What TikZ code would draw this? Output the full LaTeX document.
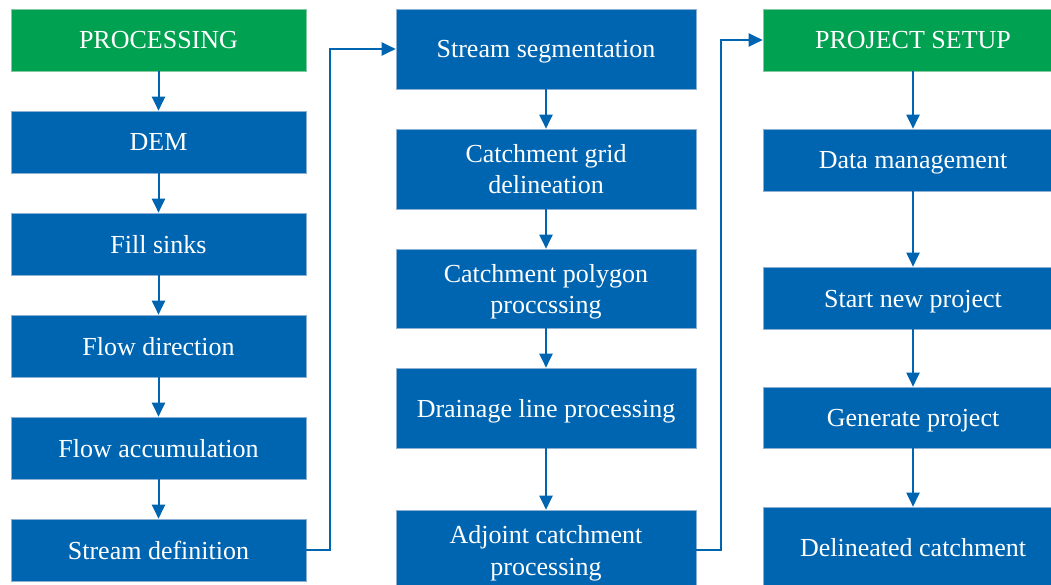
\documentclass[tikz,border=0pt]{standalone}
\usepackage{fontspec}
\setmainfont{Liberation Serif}
\usetikzlibrary{arrows.meta}
\definecolor{boxblue}{RGB}{0,101,177}
\definecolor{boxgreen}{RGB}{0,161,80}
\definecolor{edgeblue}{RGB}{140,175,210}
\definecolor{edgegreen}{RGB}{130,200,160}
\begin{document}
\begin{tikzpicture}[x=1pt,y=-1pt,
  every node/.style={font=\fontsize{26}{31}\selectfont, text=white, inner sep=0pt, align=center, text depth=0pt},
  bluebox/.style={rectangle, fill=boxblue, draw=edgeblue, line width=0.6pt},
  greenbox/.style={rectangle, fill=boxgreen, draw=edgegreen, line width=0.6pt},
  oneline/.style={text height=18pt},
  colA/.style={minimum width=295pt},
  colB/.style={minimum width=300pt},
  arr/.style={draw=boxblue, line width=2pt, -{Triangle[length=14pt,width=13pt]}}
]
\useasboundingbox (0,0) rectangle (1051,585);
\clip (0,0) rectangle (1051,585);
\fill[white] (0,0) rectangle (1051,585);

% Column 1
\node[greenbox,colA,oneline,minimum height=62pt] (pr) at (158.5,40) {PROCESSING};
\node[bluebox,colA,oneline,minimum height=62pt] (dem) at (158.5,142) {DEM};
\node[bluebox,colA,oneline,minimum height=62pt] (fs) at (158.5,244) {Fill sinks};
\node[bluebox,colA,oneline,minimum height=62pt] (fd) at (158.5,346) {Flow direction};
\node[bluebox,colA,oneline,minimum height=62pt] (fa) at (158.5,448) {Flow accumulation};
\node[bluebox,colA,oneline,minimum height=62pt] (sd) at (158.5,550) {Stream definition};

% Column 2
\node[bluebox,colB,oneline,minimum height=80pt] (ss) at (546,49) {Stream segmentation};
\node[bluebox,colB,minimum height=80pt] (cg) at (546,169) {Catchment grid\\delineation};
\node[bluebox,colB,minimum height=79pt] (cp) at (546,288.5) {Catchment polygon\\proccssing};
\node[bluebox,colB,oneline,minimum height=80pt] (dl) at (546,408) {Drainage line processing};
\node[bluebox,colB,minimum height=80pt,font=\fontsize{26}{32}\selectfont] (ac) at (546,550) {Adjoint catchment\\processing};

% Column 3
\node[greenbox,colB,oneline,minimum height=62pt] (ps) at (913,40) {PROJECT SETUP};
\node[bluebox,colB,oneline,minimum height=62pt] (dm) at (913,160) {Data management};
\node[bluebox,colB,oneline,minimum height=62pt] (sn) at (913,298) {Start new project};
\node[bluebox,colB,oneline,minimum height=61pt] (gp) at (913,417.5) {Generate project};
\node[bluebox,colB,oneline,minimum height=80pt] (dc) at (913,547) {Delineated catchment};

% Arrows column 1
\draw[arr] (pr) -- (dem);
\draw[arr] (dem) -- (fs);
\draw[arr] (fs) -- (fd);
\draw[arr] (fd) -- (fa);
\draw[arr] (fa) -- (sd);

% Arrows column 2
\draw[arr] (ss) -- (cg);
\draw[arr] (cg) -- (cp);
\draw[arr] (cp) -- (dl);
\draw[arr] (dl) -- (ac);

% Arrows column 3
\draw[arr] (ps) -- (dm);
\draw[arr] (dm) -- (sn);
\draw[arr] (sn) -- (gp);
\draw[arr] (gp) -- (dc);

% Cross-column connectors
\coordinate (k1) at (330,550);
\draw[arr] (sd.east) -- (k1) |- (ss.west);
\coordinate (k2) at (721,550);
\draw[arr] (ac.east) -- (k2) |- (ps.west);
\end{tikzpicture}
\end{document}
